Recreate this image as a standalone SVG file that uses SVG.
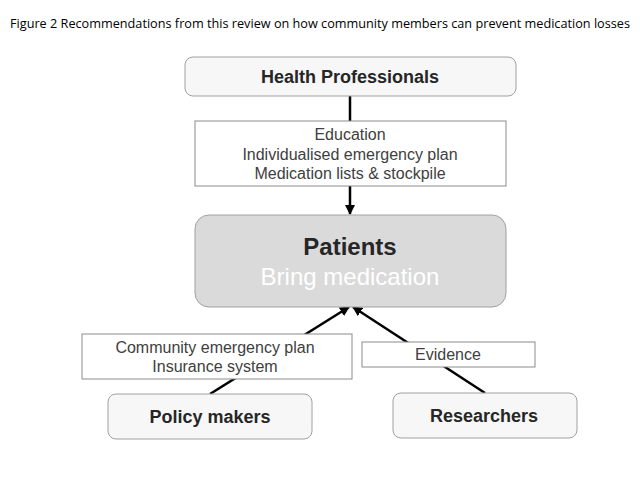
<svg xmlns="http://www.w3.org/2000/svg" width="640" height="480" viewBox="0 0 640 480">
<style>
.node{fill:#f7f7f7;stroke:#a0a0a0;stroke-width:1}
.lbl{fill:#ffffff;stroke:#8c8c8c;stroke-width:1}
.name{font-family:"Liberation Sans",Arial,sans-serif;font-weight:bold;font-size:18px;fill:#262626;text-anchor:middle}
.t{font-family:"Liberation Sans",Arial,sans-serif;font-size:16px;fill:#404040;text-anchor:middle}
.c{stroke:#000;stroke-width:2.5;fill:none}
</style>
<defs>
<marker id="ah" viewBox="0 0 10 10" refX="9" refY="5" markerWidth="4" markerHeight="4" orient="auto" markerUnits="strokeWidth">
<path d="M0,0 L10,5 L0,10 z" fill="#000"/>
</marker>
</defs>
<rect width="640" height="480" fill="#fff"/>
<text x="10" y="28" font-family="'Open Sans','Liberation Sans',sans-serif" font-size="12" fill="#000" textLength="620" lengthAdjust="spacingAndGlyphs">Figure 2 Recommendations  from this review on how community members can prevent medication losses</text>
<g id="connectors">
<line class="c" x1="350" y1="96" x2="350" y2="122" stroke-width="3"/>
<line class="c" x1="350" y1="186" x2="350" y2="214" stroke-width="2.5" marker-end="url(#ah)"/>
<line class="c" x1="210" y1="394" x2="349" y2="307" marker-end="url(#ah)"/>
<line class="c" x1="485" y1="393" x2="353" y2="307" marker-end="url(#ah)"/>
</g>
<g id="health-professionals">
<rect class="node" x="185" y="57" width="331" height="39" rx="8"/>
<text class="name" x="350" y="83">Health Professionals</text>
</g>
<g id="hp-label">
<rect class="lbl" x="195" y="121" width="311" height="65"/>
<text class="t" x="350" y="140">Education</text>
<text class="t" x="350" y="160">Individualised emergency plan</text>
<text class="t" x="350" y="179">Medication lists &amp; stockpile</text>
</g>
<g id="patients">
<rect x="195" y="215" width="311" height="92" rx="14" fill="#dadada" stroke="#a0a0a0"/>
<text class="name" x="350" y="255" font-size="24" fill="#1a1a1a" style="font-size:24px">Patients</text>
<text x="350" y="285" font-family="'Liberation Sans',Arial,sans-serif" font-size="24" fill="#ffffff" text-anchor="middle">Bring medication</text>
</g>
<g id="policy-label">
<rect class="lbl" x="82" y="334" width="270" height="45"/>
<text class="t" x="215" y="353">Community emergency plan</text>
<text class="t" x="215" y="372">Insurance system</text>
</g>
<g id="evidence-label">
<rect class="lbl" x="362" y="342" width="173" height="25"/>
<text class="t" x="448" y="360">Evidence</text>
</g>
<g id="policy-makers">
<rect class="node" x="108" y="394" width="204" height="45" rx="8"/>
<text class="name" x="210" y="423">Policy makers</text>
</g>
<g id="researchers">
<rect class="node" x="393" y="393" width="184" height="45" rx="8"/>
<text class="name" x="484" y="422">Researchers</text>
</g>
</svg>
